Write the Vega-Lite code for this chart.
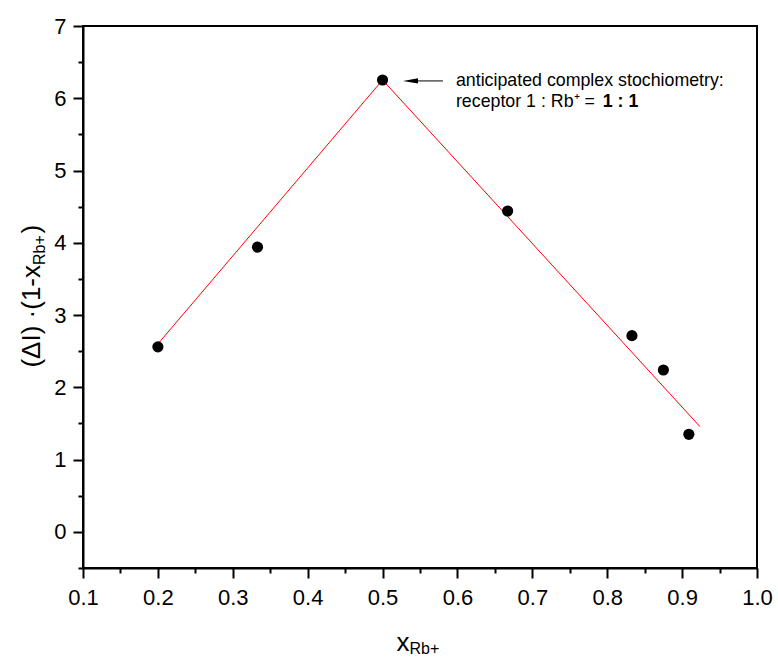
{
  "$schema": "https://vega.github.io/schema/vega-lite/v6.json",
  "width": 674,
  "height": 542,
  "autosize": {"type": "none"},
  "padding": {"left": 83, "top": 26, "right": 21, "bottom": 89},
  "background": "white",
  "config": {
    "font": "Liberation Sans",
    "view": {"stroke": "black", "strokeWidth": 2},
    "axis": {
      "domainColor": "black", "domainWidth": 2,
      "tickColor": "black", "tickWidth": 2,
      "labelColor": "black", "labelFont": "Liberation Sans", "labelFontSize": 22,
      "grid": false, "labelFlush": false, "labelOverlap": false
    }
  },
  "resolve": {"axis": {"x": "independent", "y": "independent"}},
  "datasets": {
    "points": [
      {"x": 0.2, "y": 2.56},
      {"x": 0.333, "y": 3.94},
      {"x": 0.5, "y": 6.253},
      {"x": 0.667, "y": 4.44},
      {"x": 0.833, "y": 2.715},
      {"x": 0.875, "y": 2.24},
      {"x": 0.909, "y": 1.35}
    ],
    "fit": [
      {"x": 0.2, "y": 2.6},
      {"x": 0.5, "y": 6.253},
      {"x": 0.924, "y": 1.455}
    ]
  },
  "layer": [
    {
      "data": {"name": "fit"},
      "mark": {"type": "line", "color": "#ff0000", "strokeWidth": 1},
      "encoding": {
        "x": {
          "field": "x", "type": "quantitative",
          "scale": {"domain": [0.1, 1.0], "nice": false, "zero": false},
          "axis": {
            "title": null, "orient": "bottom",
            "values": [0.1, 0.2, 0.3, 0.4, 0.5, 0.6, 0.7, 0.8, 0.9, 1.0],
            "format": ".1f", "tickSize": 10, "labelPadding": 9
          }
        },
        "y": {
          "field": "y", "type": "quantitative",
          "scale": {"domain": [-0.5, 7], "nice": false, "zero": false},
          "axis": {
            "title": null, "orient": "left",
            "values": [0, 1, 2, 3, 4, 5, 6, 7],
            "format": "d", "tickSize": 10, "labelPadding": 7
          }
        }
      }
    },
    {
      "data": {"name": "points"},
      "mark": {"type": "circle", "color": "black", "size": 125, "opacity": 1},
      "encoding": {
        "x": {
          "field": "x", "type": "quantitative",
          "axis": {
            "title": null, "orient": "bottom", "labels": false, "domain": false,
            "values": [0.15, 0.25, 0.35, 0.45, 0.55, 0.65, 0.75, 0.85, 0.95],
            "tickSize": 5
          }
        },
        "y": {
          "field": "y", "type": "quantitative",
          "axis": {
            "title": null, "orient": "left", "labels": false, "domain": false,
            "values": [-0.5, 0.5, 1.5, 2.5, 3.5, 4.5, 5.5, 6.5],
            "tickSize": 5
          }
        }
      }
    },
    {
      "data": {"values": [{}]},
      "mark": {"type": "rule", "color": "black", "strokeWidth": 1},
      "encoding": {
        "x": {"datum": 0.5806, "type": "quantitative", "axis": null},
        "x2": {"datum": 0.545},
        "y": {"datum": 6.24, "type": "quantitative", "axis": null}
      }
    },
    {
      "data": {"values": [{}]},
      "mark": {"type": "point", "shape": "M-1,0L1,-0.36L1,0.36Z", "filled": true, "color": "black", "opacity": 1, "size": 225, "strokeWidth": 0},
      "encoding": {
        "x": {"datum": 0.5373, "type": "quantitative", "axis": null},
        "y": {"datum": 6.24, "type": "quantitative", "axis": null}
      }
    },
    {
      "data": {"values": [{}]},
      "mark": {"type": "text", "text": "anticipated complex stochiometry:", "align": "left", "baseline": "alphabetic", "fontSize": 17.8, "color": "black"},
      "encoding": {
        "x": {"datum": 0.598, "type": "quantitative", "axis": null},
        "y": {"datum": 6.17, "type": "quantitative", "axis": null}
      }
    },
    {
      "data": {"values": [{}]},
      "mark": {"type": "text", "text": "receptor 1 : Rb⁺ =", "align": "left", "baseline": "alphabetic", "fontSize": 17.8, "color": "black"},
      "encoding": {
        "x": {"datum": 0.598, "type": "quantitative", "axis": null},
        "y": {"datum": 5.879, "type": "quantitative", "axis": null}
      }
    },
    {
      "data": {"values": [{}]},
      "mark": {"type": "text", "text": "1 : 1", "align": "left", "baseline": "alphabetic", "fontSize": 17.8, "fontWeight": "bold", "color": "black"},
      "encoding": {
        "x": {"datum": 0.794, "type": "quantitative", "axis": null},
        "y": {"datum": 5.879, "type": "quantitative", "axis": null}
      }
    },
    {
      "data": {"values": [{}]},
      "mark": {"type": "text", "text": "x", "align": "left", "baseline": "alphabetic", "fontSize": 26, "color": "black"},
      "encoding": {
        "x": {"datum": 0.5186, "type": "quantitative", "axis": null},
        "y": {"datum": -1.655, "type": "quantitative", "axis": null}
      }
    },
    {
      "data": {"values": [{}]},
      "mark": {"type": "text", "text": "Rb+", "align": "left", "baseline": "alphabetic", "fontSize": 16, "color": "black"},
      "encoding": {
        "x": {"datum": 0.5359, "type": "quantitative", "axis": null},
        "y": {"datum": -1.685, "type": "quantitative", "axis": null}
      }
    },
    {
      "data": {"values": [{}]},
      "mark": {"type": "text", "text": "(ΔI) ·(1-x", "align": "right", "baseline": "alphabetic", "angle": 270, "fontSize": 26, "color": "black"},
      "encoding": {
        "x": {"datum": 0.0426, "type": "quantitative", "axis": null},
        "y": {"datum": 3.693, "type": "quantitative", "axis": null}
      }
    },
    {
      "data": {"values": [{}]},
      "mark": {"type": "text", "text": "Rb+", "align": "left", "baseline": "alphabetic", "angle": 270, "fontSize": 16, "color": "black"},
      "encoding": {
        "x": {"datum": 0.0493, "type": "quantitative", "axis": null},
        "y": {"datum": 3.693, "type": "quantitative", "axis": null}
      }
    },
    {
      "data": {"values": [{}]},
      "mark": {"type": "text", "text": ")", "align": "left", "baseline": "alphabetic", "angle": 270, "fontSize": 26, "color": "black"},
      "encoding": {
        "x": {"datum": 0.0426, "type": "quantitative", "axis": null},
        "y": {"datum": 4.13, "type": "quantitative", "axis": null}
      }
    }
  ]
}
